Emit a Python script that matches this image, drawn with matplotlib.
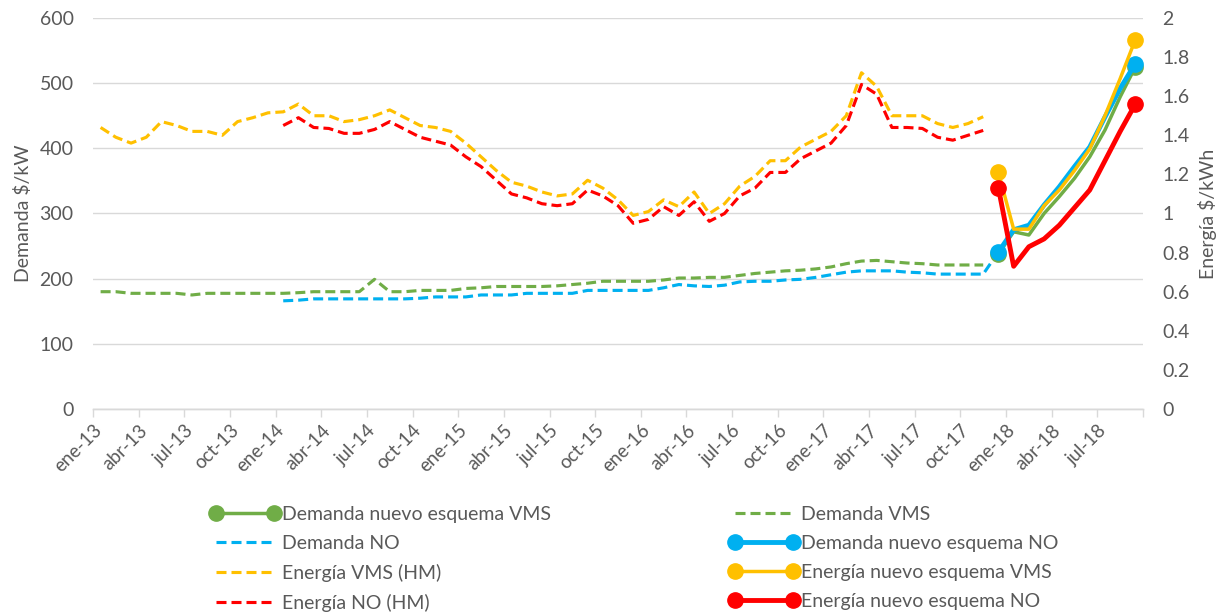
#!/usr/bin/python

import numpy as np
import matplotlib
matplotlib.use("Agg")
import matplotlib.pyplot as plt
from matplotlib.lines import Line2D

plt.rcParams['font.family'] = ['Lato', 'DejaVu Sans']

# month labels (ene-13 .. sep-18), one tick label every quarter
mes = ["ene", "abr", "jul", "oct"]
tick_labels = ["%s-%d" % (m, y) for y in range(13, 19) for m in mes][:23]
n_months = 69

# Energia historic (right axis, $/kWh)
energia_vms_hm_start = 0
energia_vms_hm = [1.44, 1.39, 1.36, 1.39, 1.47, 1.45, 1.42, 1.42, 1.40, 1.47,
                  1.49, 1.515, 1.52, 1.56, 1.50, 1.50, 1.47, 1.48, 1.50, 1.53,
                  1.49, 1.45, 1.44, 1.42, 1.36, 1.29, 1.22, 1.16, 1.14, 1.11,
                  1.09, 1.10, 1.17, 1.13, 1.07, 0.99, 1.01, 1.07, 1.035, 1.11,
                  1.00, 1.05, 1.14, 1.19, 1.27, 1.27, 1.34, 1.38, 1.42, 1.50,
                  1.72, 1.65, 1.50, 1.50, 1.50, 1.46, 1.44, 1.46, 1.495]
energia_no_hm_start = 12
energia_no_hm = [1.45, 1.49, 1.44, 1.435, 1.41, 1.41, 1.43, 1.47, 1.43, 1.39,
                 1.37, 1.35, 1.29, 1.24, 1.17, 1.10, 1.08, 1.05, 1.04, 1.05,
                 1.12, 1.09, 1.04, 0.95, 0.97, 1.035, 0.99, 1.06, 0.96, 1.00,
                 1.09, 1.13, 1.21, 1.21, 1.28, 1.32, 1.36, 1.45, 1.66, 1.61,
                 1.44, 1.44, 1.435, 1.39, 1.375, 1.40, 1.425]

# Demanda historic (left axis, $/kW)
demanda_vms_start = 0
demanda_vms = [180, 180, 177.5, 177.5, 177.5, 177.5, 175, 177.5, 177.5, 177.5,
               177.5, 177.5, 177.5, 178.5, 180, 180, 180, 180, 199, 180,
               180, 182, 182, 182, 185, 186, 188, 188, 188, 188,
               189, 191, 193, 196, 196, 196, 196, 198, 201, 201,
               202, 202, 205, 208, 210, 212, 213, 215, 218, 223,
               227, 228, 226, 224, 223, 221, 221, 221, 221]
demanda_no_start = 12
demanda_no = [166, 167, 169, 169, 169, 169, 169, 169, 169, 170,
              172, 172, 172, 175, 175, 175, 177.5, 177.5, 177.5, 177.5,
              182, 182, 182, 182, 182, 186, 191, 189, 188, 190,
              195, 196, 196, 198, 199, 202, 206, 210, 212, 212,
              212, 210, 209, 207, 207, 207, 207, 241]

# nuevo esquema (dic-17 .. sep-18)
nuevo_start = 59
demanda_nuevo_vms = [238, 272, 267, 300, 326, 354, 387, 428, 479, 525]
demanda_nuevo_no = [241, 275, 282, 313, 341, 372, 402, 448, 492, 530]
energia_nuevo_vms = [1.21, 0.92, 0.92, 1.04, 1.12, 1.22, 1.33, 1.50, 1.69, 1.89]
energia_nuevo_no = [1.13, 0.73, 0.83, 0.87, 0.94, 1.03, 1.12, 1.27, 1.42, 1.56]

GREEN = "#70AD47"
BLUE = "#00B0F0"
YELLOW = "#FFC000"
RED = "#FF0000"
TXT = "#595959"
GRID = "#D9D9D9"
DASH = (0, (3.2, 1.6))


def xpos(start, vals):
    # points sit in the middle of each month slot
    return np.arange(start, start + len(vals)) + 0.5


fig = plt.figure(figsize=(12.25, 6.16), dpi=100)
ax = fig.add_axes([93 / 1225, 1 - 409 / 616, (1143 - 93) / 1225, (409 - 18) / 616])
ax2 = ax.twinx()

# left axis: demanda
ax.plot(xpos(demanda_vms_start, demanda_vms), demanda_vms, color=GREEN, lw=2.25, ls=DASH)
ax.plot(xpos(demanda_no_start, demanda_no), demanda_no, color=BLUE, lw=2.25, ls=DASH)
ax.plot(xpos(nuevo_start, demanda_nuevo_vms), demanda_nuevo_vms, color=GREEN, lw=2.5,
        marker="o", ms=11, markevery=[0, -1])
ax.plot(xpos(nuevo_start, demanda_nuevo_no), demanda_nuevo_no, color=BLUE, lw=3.5,
        marker="o", ms=11, markevery=[0, -1])

# right axis: energia
ax2.plot(xpos(energia_vms_hm_start, energia_vms_hm), energia_vms_hm, color=YELLOW, lw=2.25, ls=DASH)
ax2.plot(xpos(energia_no_hm_start, energia_no_hm), energia_no_hm, color=RED, lw=2.25, ls=DASH)
ax2.plot(xpos(nuevo_start, energia_nuevo_vms), energia_nuevo_vms, color=YELLOW, lw=2.5,
         marker="o", ms=11, markevery=[0, -1])
ax2.plot(xpos(nuevo_start, energia_nuevo_no), energia_nuevo_no, color=RED, lw=3.5,
         marker="o", ms=11, markevery=[0, -1])

ax.set_xlim(0, n_months)
ax.set_ylim(0, 600)
ax2.set_ylim(0, 2)
ax.set_yticks(np.arange(0, 601, 100))
ax2.set_yticks(np.arange(0, 2.01, 0.2))
ax2.set_yticklabels(["0"] + ["%g" % v for v in np.arange(0.2, 2.01, 0.2)])

ticks = list(range(0, n_months + 1, 3))
ax.set_xticks(ticks)
ax.set_xticklabels(tick_labels + [""] * (len(ticks) - len(tick_labels)),
                   rotation=45, ha="right", rotation_mode="anchor")

ax.grid(axis="y", color=GRID, lw=1)
ax.set_axisbelow(True)
for a in (ax, ax2):
    for s in ("top", "left", "right"):
        a.spines[s].set_visible(False)
    a.spines["bottom"].set_color(GRID)
    a.spines["bottom"].set_linewidth(1)
ax.tick_params(axis="x", colors=TXT, labelsize=13.5, length=6, width=1, color=GRID, pad=3)
ax.tick_params(axis="y", colors=TXT, labelsize=14, length=0, pad=14)
ax2.tick_params(axis="y", colors=TXT, labelsize=14, length=0, pad=14)

ax.set_ylabel("Demanda \\$/kW", color=TXT, fontsize=14, labelpad=5)
ax2.set_ylabel("Energía \\$/kWh", color=TXT, fontsize=14, labelpad=6)

# legend, two columns laid out like the original
def h_dash(c):
    return Line2D([], [], color=c, lw=2.25, ls=DASH)


def h_new(c, lw):
    return Line2D([], [], color=c, lw=lw, marker="o", ms=11)


col1 = [(h_new(GREEN, 2.5), "Demanda nuevo esquema VMS"),
        (h_dash(BLUE), "Demanda NO"),
        (h_dash(YELLOW), "Energía VMS (HM)"),
        (h_dash(RED), "Energía NO (HM)")]
col2 = [(h_dash(GREEN), "Demanda VMS"),
        (h_new(BLUE, 3.5), "Demanda nuevo esquema NO"),
        (h_new(YELLOW, 2.5), "Energía nuevo esquema VMS"),
        (h_new(RED, 3.5), "Energía nuevo esquema NO")]

for col, x0 in ((col1, 204 / 1225), (col2, 723 / 1225)):
    leg = fig.legend([c[0] for c in col], [c[1] for c in col], loc="upper left",
                     bbox_to_anchor=(x0, 1 - 500 / 616), frameon=False, fontsize=14,
                     handlelength=3.6, handletextpad=0.1, labelspacing=0.62,
                     borderaxespad=0, borderpad=0.3, numpoints=2)
    for t in leg.get_texts():
        t.set_color(TXT)

fig.savefig("out.png", dpi=100)
